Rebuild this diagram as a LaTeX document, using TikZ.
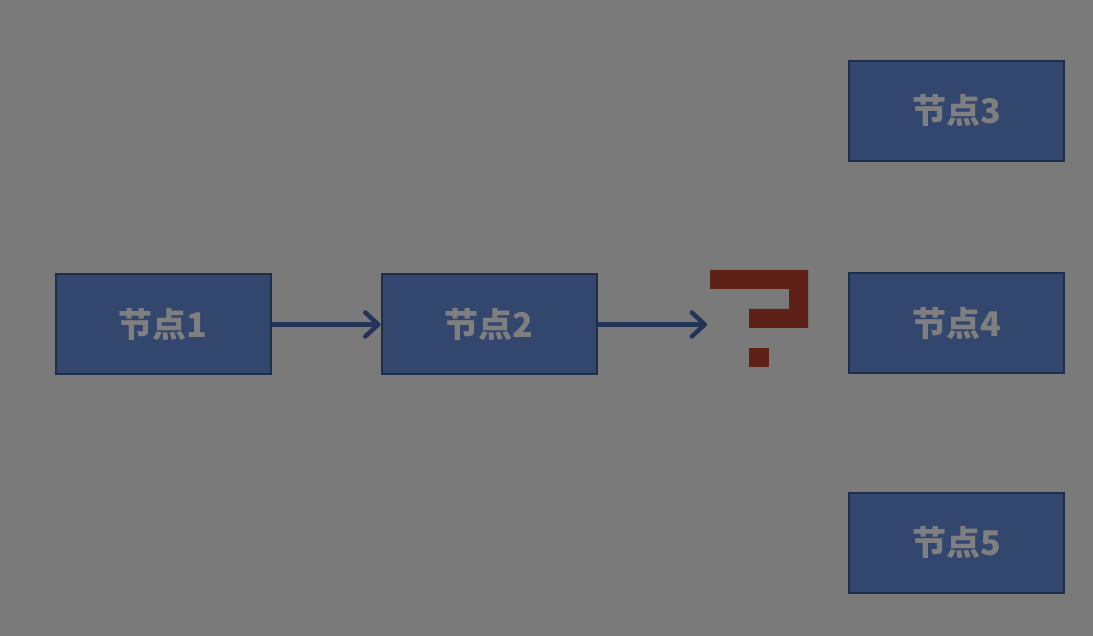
\documentclass[tikz,border=0pt]{standalone}
\usepackage{fontspec}
\newfontfamily\cjk{Noto Sans CJK SC}
\usetikzlibrary{arrows.meta}

\definecolor{bgcol}{HTML}{7A7A7A}
\definecolor{boxfill}{HTML}{33466E}
\definecolor{boxline}{HTML}{1F2D4D}
\definecolor{boxtext}{HTML}{7F7F7F}
\definecolor{arrowcol}{HTML}{243456}
\definecolor{markcol}{HTML}{5E2118}

\begin{document}
\begin{tikzpicture}[x=1pt,y=-1pt,
    box/.style={draw=boxline, fill=boxfill, line width=2pt,
        minimum width=215pt, minimum height=100pt, inner sep=0pt,
        text=boxtext, font=\cjk\bfseries\fontsize{34}{34}\selectfont},
    link/.style={draw=arrowcol, line width=4.5pt,
        -{Straight Barb[length=13pt,width=24pt,round]}}]

\fill[bgcol] (0,0) rectangle (1093,636);
\useasboundingbox (0,0) rectangle (1093,636);

\node[box] (n1) at (163,324.5) {节点1};
\node[box] (n2) at (489,324.5) {节点2};
\node[box] (n3) at (956.5,111) {节点3};
\node[box] (n4) at (956.5,323.5) {节点4};
\node[box] (n5) at (956.5,543) {节点5};

\coordinate (q) at (707,324.5);

\draw[link] (n1) -- (n2);
\draw[link] (n2) -- (q);

% question mark
\fill[markcol] (710,270) -- (808,270) -- (808,328) -- (749,328) -- (749,309)
    -- (789,309) -- (789,289) -- (710,289) -- cycle;
\fill[markcol] (749,348) rectangle (769,367);

\end{tikzpicture}
\end{document}
